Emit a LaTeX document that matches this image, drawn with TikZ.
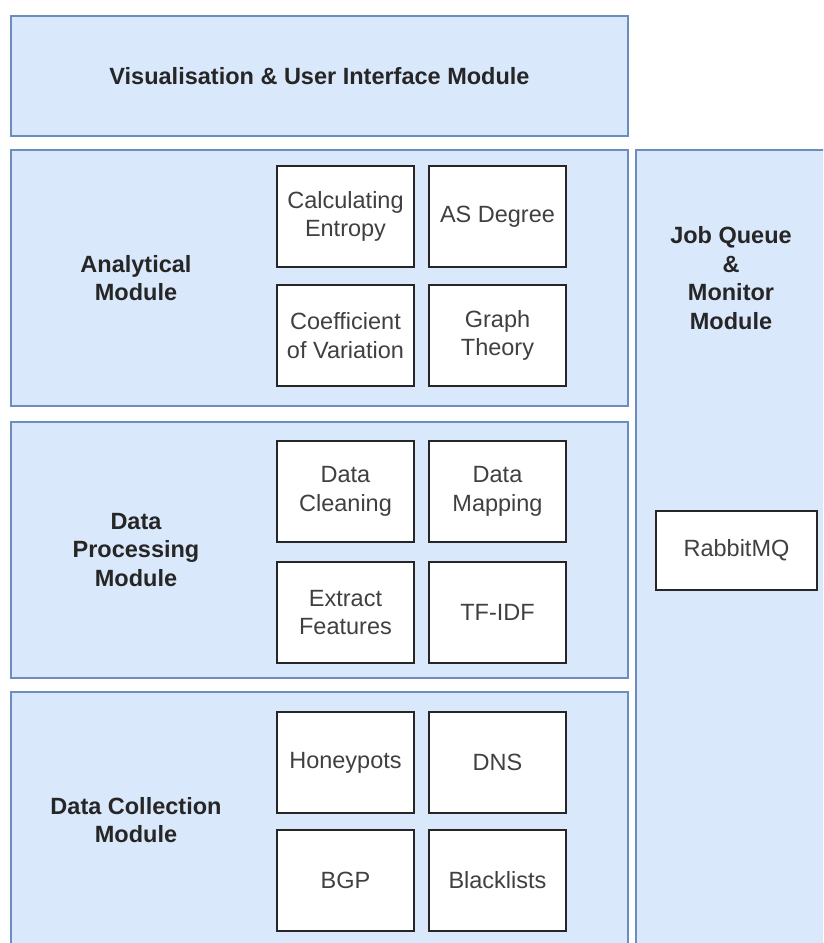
\documentclass[tikz,border=0pt]{standalone}
\usepackage{fontspec}
\setmainfont{Liberation Sans}
\usepackage{tikz}
\usetikzlibrary{positioning}
\definecolor{modFill}{HTML}{DAE8FC}
\definecolor{modLine}{HTML}{6C8EBF}
\newcommand{\diagFont}{\fontsize{23.5}{28.5}\selectfont}
\tikzset{
    module/.style={draw=modLine, fill=modFill, line width=2pt, inner sep=0pt},
    modLabel/.style={font=\diagFont\bfseries, align=center, text=black!85},
    part/.style={draw=black!85, fill=white, line width=2pt, inner sep=0pt,
        minimum width=137pt, minimum height=101pt, align=center, text=black!75}
}
\begin{document}
\begin{tikzpicture}[x=1pt, y=-1pt, font=\diagFont]
	\useasboundingbox (0,0) rectangle (823,943);
	\clip (0,0) rectangle (823,943);
	% modules
	\node[module, minimum width=617pt, minimum height=120.5pt] (vis) at (319.5,75.75) {};
	\node[module, minimum width=617pt, minimum height=256pt] (ana) at (319.5,278) {};
	\node[module, minimum width=617pt, minimum height=256pt] (proc) at (319.5,550) {};
	\node[module, minimum width=617pt, minimum height=256pt] (coll) at (319.5,820) {};
	\node[module, minimum width=190pt, minimum height=798pt] (job) at (731,549) {};
	\node[modLabel] (visText) at (vis.center) {Visualisation \& User Interface Module};
	\node[modLabel] (anaText) at (136,278) {Analytical\\Module};
	\node[modLabel] (procText) at (136,550) {Data\\Processing\\Module};
	\node[modLabel] (collText) at (136,820) {Data Collection\\Module};
	\node[modLabel] (jobText) at (731,278) {Job Queue\\\&\\Monitor\\Module};
	% analytical parts
	\node[part] (entropy) at (345.5,216.5) {Calculating\\Entropy};
	\node[part, right=13pt of entropy] (degree) {AS Degree};
	\node[part, below=16pt of entropy] (variation) {Coefficient\\of Variation};
	\node[part, right=13pt of variation] (graph) {Graph\\Theory};
	% processing parts
	\node[part] (cleaning) at (345.5,491.5) {Data\\Cleaning};
	\node[part, right=13pt of cleaning] (mapping) {Data\\Mapping};
	\node[part, below=18pt of cleaning] (features) {Extract\\Features};
	\node[part, right=13pt of features] (tfidf) {TF-IDF};
	% collection parts
	\node[part] (honeypots) at (345.5,762.5) {Honeypots};
	\node[part, right=13pt of honeypots] (dns) {DNS};
	\node[part, below=15pt of honeypots] (bgp) {BGP};
	\node[part, right=13pt of bgp] (blacklists) {Blacklists};
	% queue
	\node[part, minimum width=161pt, minimum height=79pt] (rabbit) at (736.5,550.5) {RabbitMQ};
\end{tikzpicture}
\end{document}
